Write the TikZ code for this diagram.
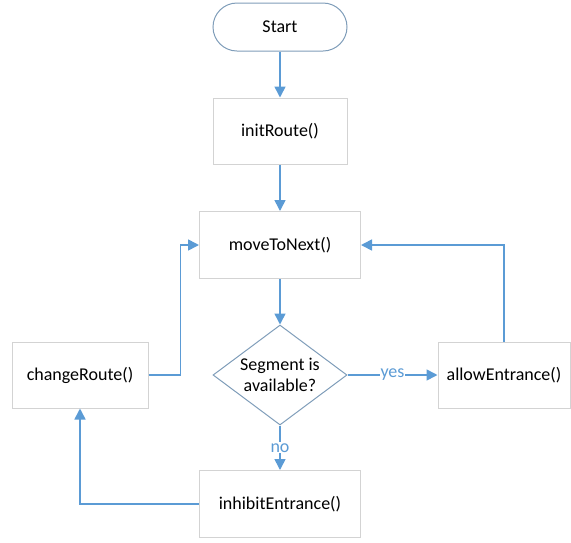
\documentclass[tikz,border=0pt]{standalone}
\usepackage{fontspec}
\setmainfont{Carlito}
\usetikzlibrary{arrows.meta,positioning,shapes.geometric}
\definecolor{flowblue}{HTML}{5B9BD5}
\definecolor{boxgray}{HTML}{D3D3D3}
\definecolor{decgray}{HTML}{7F9DB9}

\begin{document}
\begin{tikzpicture}[x=1pt, y=-1pt,
	box/.style={draw=boxgray, line width=1pt, minimum width=134pt, minimum height=66pt,
		align=center, font=\fontsize{18}{21}\selectfont},
	term/.style={draw=decgray, line width=1pt, rounded corners=24pt, minimum width=134pt,
		minimum height=48pt, font=\fontsize{18}{21}\selectfont},
	decide/.style={draw=decgray, line width=1pt, diamond, aspect=1.34, inner sep=0pt,
		minimum width=134pt, minimum height=100pt, align=center,
		font=\fontsize{18}{21}\selectfont},
	lbl/.style={fill=white, text=flowblue, inner sep=1pt, font=\fontsize{18}{21}\selectfont},
	arr/.style={-{Triangle[width=11pt,length=11pt]}, draw=flowblue, line width=1.6pt}
]
	\useasboundingbox (0,0) rectangle (571,542);

	% Main column
	\node[term] (start) at (280, 27) {Start};
	\node[box] (init) at (280, 131) {initRoute()};
	\node[box, minimum width=161pt, minimum height=67pt] (move) at (280, 245) {moveToNext()};
	\node[decide] (seg) at (280, 375) {Segment is\\ available?};
	\node[box, minimum width=161pt, minimum height=67pt] (inhibit) at (280, 504)
		{inhibitEntrance()};

	% Side boxes
	\node[box, minimum width=136pt] (change) at (80, 375) {changeRoute()};
	\node[box, minimum width=132pt] (allow) at (504, 375) {allowEntrance()};

	\draw[arr] (start) -- (init);
	\draw[arr] (init) -- (move);
	\draw[arr] (move) -- (seg);

	% Branches
	\draw[arr] (seg) -- node[lbl] {yes} (allow);
	\draw[arr] (seg) -- node[lbl] {no} (inhibit);

	% Loops back
	\draw[arr] (allow.north) |- (move.east);
	\draw[arr] (change.east) -- ++(32,0) |- (move.west);
	\draw[arr] (inhibit.west) -| (change.south);
\end{tikzpicture}
\end{document}
